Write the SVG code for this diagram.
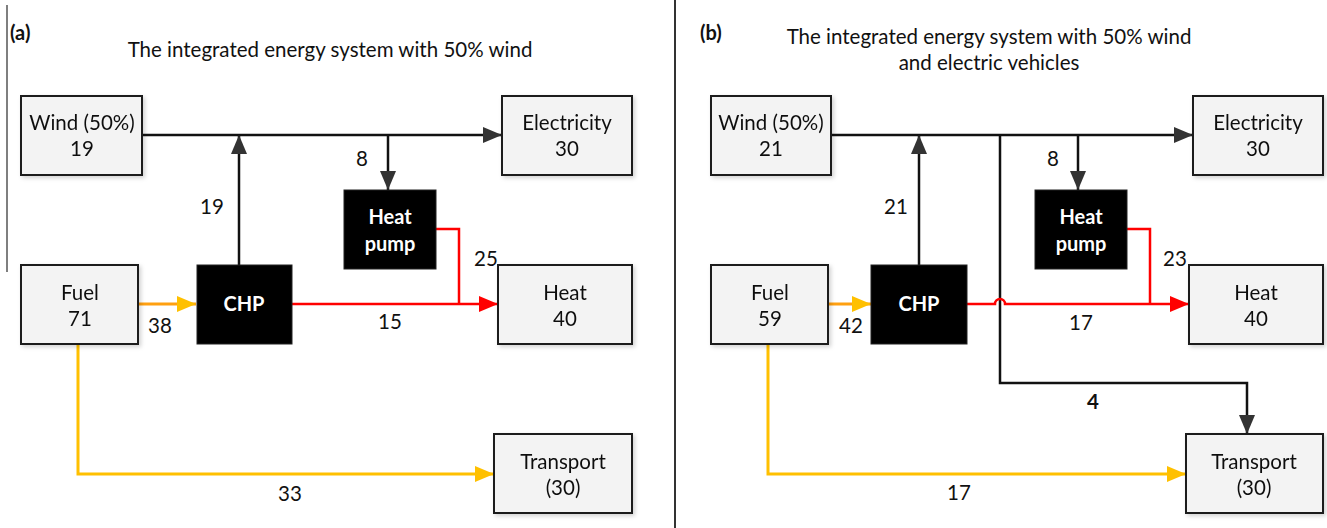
<svg xmlns="http://www.w3.org/2000/svg" width="1327" height="528" viewBox="0 0 1327 528">
<defs>
<style>
.box{fill:#f3f3f3;stroke:#1a1a1a;stroke-width:2}
.blk{fill:#000;stroke:#222;stroke-width:1}
.t{font-family:Lato,"Open Sans",sans-serif;font-size:20.5px;fill:#111;text-anchor:middle}
.w{font-family:Lato,"Open Sans",sans-serif;font-size:20px;fill:#fff;font-weight:bold;text-anchor:middle}
.ttl{font-family:Lato,"Open Sans",sans-serif;font-size:20.5px;fill:#111;text-anchor:middle}
.lab{font-family:Lato,"Open Sans",sans-serif;font-size:20px;font-weight:bold;fill:#111}
.k{fill:none;stroke:#111;stroke-width:2.5}
.r{fill:none;stroke:#f00;stroke-width:2.5}
.o{fill:none;stroke:#ffa010;stroke-width:3}
.y{fill:none;stroke:#ffc000;stroke-width:3}
</style>
<filter id="sh" x="-10%" y="-10%" width="130%" height="130%">
<feDropShadow dx="2" dy="2" stdDeviation="2" flood-color="#000" flood-opacity="0.18"/>
</filter>
<marker id="ak" markerUnits="userSpaceOnUse" markerWidth="20" markerHeight="18" refX="19" refY="9" orient="auto"><path d="M0,1 L19,9 L0,17 Z" fill="#333"/></marker>
<marker id="ar" markerUnits="userSpaceOnUse" markerWidth="20" markerHeight="18" refX="19" refY="9" orient="auto"><path d="M0,1 L19,9 L0,17 Z" fill="#f00"/></marker>
<marker id="ay" markerUnits="userSpaceOnUse" markerWidth="20" markerHeight="18" refX="19" refY="9" orient="auto"><path d="M0,1 L19,9 L0,17 Z" fill="#ffc000"/></marker>
</defs>
<rect width="1327" height="528" fill="#fff"/>

<g id="frame">
<line x1="7" y1="5" x2="7" y2="272" stroke="#555" stroke-width="1.5"/>
<line x1="675" y1="0" x2="675" y2="528" stroke="#333" stroke-width="2"/>
<text class="lab" x="10" y="40">(a)</text>
<text class="ttl" x="330" y="57">The integrated energy system with 50% wind</text>
<text class="lab" x="700" y="40">(b)</text>
<text class="ttl" x="989" y="44">The integrated energy system with 50% wind</text>
<text class="ttl" x="989" y="70">and electric vehicles</text>
</g>

<g id="connectors">
<!-- panel a -->
<path class="k" d="M142,135 H502" marker-end="url(#ak)"/>
<path class="k" d="M239,265 V135" marker-end="url(#ak)"/>
<path class="k" d="M388,135 V190" marker-end="url(#ak)"/>
<path class="r" d="M436,229 H459 V304"/>
<path class="r" d="M292,304 H498" marker-end="url(#ar)"/>
<path class="o" d="M138,304 H196" marker-end="url(#ay)"/>
<path class="y" d="M78,344 V474 H494" marker-end="url(#ay)"/>
<!-- panel b -->
<path class="k" d="M831,135 H1193" marker-end="url(#ak)"/>
<path class="k" d="M919,265 V135" marker-end="url(#ak)"/>
<path class="k" d="M1078,135 V190" marker-end="url(#ak)"/>
<path class="k" d="M1000,135 V383 H1247 V434" marker-end="url(#ak)"/>
<path class="r" d="M1127,229 H1150 V304"/>
<path class="r" d="M967,304 H995 A5,5 0 0 1 1005,304 H1189" marker-end="url(#ar)"/>
<path class="o" d="M828,304 H871" marker-end="url(#ay)"/>
<path class="y" d="M768,344 V474 H1186" marker-end="url(#ay)"/>
</g>

<g id="labels">
<text class="t" x="212" y="214">19</text>
<text class="t" x="362" y="166">8</text>
<text class="t" x="486" y="266">25</text>
<text class="t" x="160" y="333">38</text>
<text class="t" x="390" y="329">15</text>
<text class="t" x="290" y="501">33</text>
<text class="t" x="896" y="214">21</text>
<text class="t" x="1053" y="166">8</text>
<text class="t" x="1175" y="266">23</text>
<text class="t" x="851" y="333">42</text>
<text class="t" x="1081" y="330">17</text>
<text class="t" x="1093" y="409" font-weight="bold">4</text>
<text class="t" x="959" y="500">17</text>
</g>

<g id="a-wind" filter="url(#sh)"><rect class="box" x="21" y="96" width="121" height="79"/><text class="t" x="82" y="130">Wind (50%)</text><text class="t" x="82" y="156">19</text></g>
<g id="a-electricity" filter="url(#sh)"><rect class="box" x="502" y="96" width="130" height="79"/><text class="t" x="567" y="130">Electricity</text><text class="t" x="567" y="156">30</text></g>
<g id="a-heatpump"><rect class="blk" x="344" y="190" width="92" height="79"/><text class="w" x="390" y="224">Heat</text><text class="w" x="390" y="251">pump</text></g>
<g id="a-fuel" filter="url(#sh)"><rect class="box" x="21" y="265" width="117" height="79"/><text class="t" x="80" y="300">Fuel</text><text class="t" x="80" y="326">71</text></g>
<g id="a-chp"><rect class="blk" x="197" y="265" width="95" height="79"/><text class="w" x="244" y="311">CHP</text></g>
<g id="a-heat" filter="url(#sh)"><rect class="box" x="498" y="265" width="134" height="79"/><text class="t" x="565" y="300">Heat</text><text class="t" x="565" y="326">40</text></g>
<g id="a-transport" filter="url(#sh)"><rect class="box" x="494" y="434" width="138" height="79"/><text class="t" x="563" y="469">Transport</text><text class="t" x="563" y="495">(30)</text></g>

<g id="b-wind" filter="url(#sh)"><rect class="box" x="711" y="96" width="120" height="79"/><text class="t" x="771" y="130">Wind (50%)</text><text class="t" x="771" y="156">21</text></g>
<g id="b-electricity" filter="url(#sh)"><rect class="box" x="1193" y="96" width="130" height="79"/><text class="t" x="1258" y="130">Electricity</text><text class="t" x="1258" y="156">30</text></g>
<g id="b-heatpump"><rect class="blk" x="1035" y="190" width="92" height="79"/><text class="w" x="1081" y="224">Heat</text><text class="w" x="1081" y="251">pump</text></g>
<g id="b-fuel" filter="url(#sh)"><rect class="box" x="711" y="265" width="117" height="79"/><text class="t" x="770" y="300">Fuel</text><text class="t" x="770" y="326">59</text></g>
<g id="b-chp"><rect class="blk" x="871" y="265" width="96" height="79"/><text class="w" x="919" y="311">CHP</text></g>
<g id="b-heat" filter="url(#sh)"><rect class="box" x="1189" y="265" width="134" height="79"/><text class="t" x="1256" y="300">Heat</text><text class="t" x="1256" y="326">40</text></g>
<g id="b-transport" filter="url(#sh)"><rect class="box" x="1186" y="434" width="137" height="79"/><text class="t" x="1254" y="469">Transport</text><text class="t" x="1254" y="495">(30)</text></g>
</svg>
